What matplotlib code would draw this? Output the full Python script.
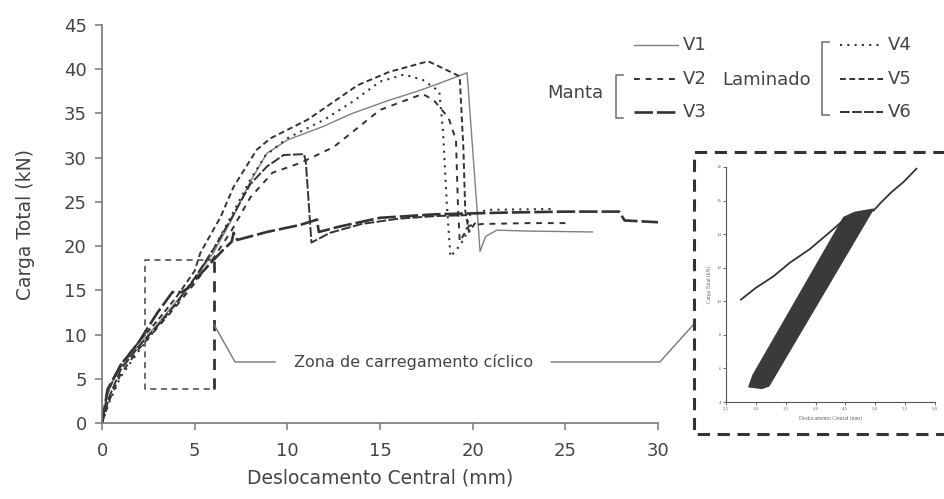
import matplotlib
matplotlib.use('Agg')
import matplotlib.pyplot as plt
from matplotlib.lines import Line2D
from matplotlib.patches import Polygon

plt.rcParams['font.family'] = 'DejaVu Sans'

# ---- curvas carga x deslocamento ----
v1_x = [0, 0.3, 0.6, 1, 1.5, 2, 3, 4, 5, 6, 7, 8, 8.9, 10, 11.9, 13.5, 15.5, 17, 18.2, 19.7, 20.4, 20.7, 21.3, 23, 26.5]
v1_y = [0, 3.2, 4.8, 6.3, 7.6, 8.8, 11.2, 13.7, 16.3, 19.2, 23, 27.3, 30.5, 32, 33.5, 35, 36.5, 37.5, 38.4, 39.6, 19.4, 21.1, 21.8, 21.7, 21.6]

v2_x = [0, 0.4, 1, 2, 3, 4, 5, 6, 7, 8, 9.2, 10.7, 12.5, 15, 17.3, 17.9, 18.7, 19.1, 19.2, 19.3, 19.8, 20.5, 23, 25.2]
v2_y = [0, 2.6, 5.5, 8.4, 10.8, 13.2, 15.8, 18.6, 21.8, 25.5, 28.3, 29.4, 31.2, 35.4, 37.2, 36.5, 34.5, 32, 25, 20.5, 22.3, 22.5, 22.6, 22.6]

v3_x = [0, 0.3, 1, 2, 2.3, 3, 3.8, 4.3, 4.6, 5.3, 6, 6.55, 7.0, 7.1, 7.3, 8.9, 10.7, 11.6, 11.7, 12.8, 15, 18, 20, 22, 25, 27.9, 28.2, 30]
v3_y = [0, 3.8, 6.5, 9.2, 10.2, 12.5, 14.8, 14.8, 15.2, 16.8, 18.4, 19.6, 20.5, 21.5, 20.7, 21.6, 22.4, 23.0, 21.6, 22.2, 23.2, 23.6, 23.7, 23.8, 23.9, 23.9, 22.9, 22.7]

v4_x = [0, 0.4, 1, 2, 3, 4, 5, 6, 7, 8, 8.8, 10, 12, 13.5, 15, 16.3, 17.3, 18.2, 18.4, 18.6, 18.8, 19.2, 19.6, 19.8, 20.8, 24.4]
v4_y = [0, 2.4, 5.2, 8.2, 10.9, 13.4, 16.2, 19.6, 23.5, 27.5, 30.2, 32.2, 34.3, 36.3, 38.6, 39.4, 38.8, 37.5, 33, 25, 18.8, 19.8, 21, 23.5, 24.1, 24.2]

v5_x = [0, 0.3, 1, 2, 3, 4, 5, 5.3, 6.4, 7.1, 8.35, 9.1, 11.1, 13.8, 15.5, 17.6, 19.3, 19.5, 19.6, 19.8, 20.2]
v5_y = [0, 3.5, 6.6, 9.2, 11.6, 14.2, 17.2, 19.2, 23.3, 26.7, 30.9, 32.2, 34.3, 38.2, 39.7, 40.9, 39.2, 31, 24, 21.6, 22.8]

v6_x = [0, 0.4, 1, 2, 3, 4, 5, 6, 7, 8, 8.9, 9.8, 10.9, 11.0, 11.3, 12.3, 14, 16, 18, 19.7]
v6_y = [0, 3, 6, 8.7, 11, 13.5, 16.4, 19.6, 23.2, 27, 29, 30.3, 30.4, 29.5, 20.4, 21.5, 22.5, 23.1, 23.4, 23.5]

names = ['V1', 'V2', 'V3', 'V4', 'V5', 'V6']
xs = [v1_x, v2_x, v3_x, v4_x, v5_x, v6_x]
ys = [v1_y, v2_y, v3_y, v4_y, v5_y, v6_y]
styles = [
    dict(color='#808080', lw=1.0, ls='-'),
    dict(color='#333333', lw=1.4, ls=(0, (3, 3))),
    dict(color='#333333', lw=1.9, ls=(0, (7, 1.5))),
    dict(color='#333333', lw=1.5, ls=(0, (1, 2.5))),
    dict(color='#333333', lw=1.4, ls=(0, (3, 1.8))),
    dict(color='#333333', lw=1.4, ls=(0, (5, 1.2))),
]

# ---- detalhe do carregamento ciclico (inset) ----
ins_line_x = [2.75, 3.0, 3.3, 3.57, 3.9, 4.2, 4.49]
ins_line_y = [10.1, 10.8, 11.5, 12.3, 13.1, 14.0, 14.9]
ins_tail_x = [4.97, 5.1, 5.27, 5.47, 5.69]
ins_tail_y = [15.4, 15.9, 16.5, 17.1, 17.9]
band_x = [2.88, 2.95, 4.47, 4.65, 4.97, 3.22, 3.1]
band_y = [4.9, 5.6, 15.0, 15.3, 15.5, 4.95, 4.8]

zone_x = (2.33, 6.05)
zone_y = (3.85, 18.4)

W, H = 944, 499
fig = plt.figure(figsize=(W / 100, H / 100), dpi=100)
ax = fig.add_axes([102 / W, 76 / H, 556 / W, 398 / H])

for x, y, st in zip(xs, ys, styles):
    ax.plot(x, y, solid_capstyle='butt', **st)

ax.set_xlim(0, 30)
ax.set_ylim(0, 45)
ax.set_xticks(range(0, 31, 5))
ax.set_yticks(range(0, 46, 5))
for s in ['top', 'right']:
    ax.spines[s].set_visible(False)
for s in ['left', 'bottom']:
    ax.spines[s].set_color('#777777')
    ax.spines[s].set_linewidth(1.2)
ax.tick_params(axis='both', direction='out', length=5, width=1.1, color='#777777',
               labelsize=13, labelcolor='#444444')
ax.tick_params(axis='x', pad=9)
ax.tick_params(axis='y', pad=6)
ax.set_xlabel('Deslocamento Central (mm)', fontsize=13.5, color='#444444', labelpad=6)
ax.set_ylabel('Carga Total (kN)', fontsize=13.5, color='#444444', labelpad=21)

# caixa da zona ciclica
zx0, zx1 = zone_x
zy0, zy1 = zone_y
ax.plot([zx1, zx0, zx0, zx1], [zy1, zy1, zy0, zy0], color='#444444', lw=1.1, ls=(0, (4, 3)))
ax.plot([zx1, zx1], [zy0, zy1], color='#333333', lw=2.0, ls=(0, (4, 3)))

# chamada
ax.plot([6.05, 7.18, 9.34], [11.1, 6.9, 6.9], color='#777777', lw=1.0)
ax.plot([24.25, 30.1, 31.9], [6.9, 6.9, 11.1], color='#777777', lw=1.0, clip_on=False)
ax.text(16.8, 6.9, 'Zona de carregamento cíclico', fontsize=11.5, color='#444444',
        ha='center', va='center')


def fp(px, py):
    return px / W, 1 - py / H


# legenda desenhada
leg_rows = [45, 79, 112]
for i, name in enumerate(names):
    col = i // 3
    row = leg_rows[i % 3]
    x0, x1, xt = (634, 678, 683) if col == 0 else (840, 883, 888)
    a, b = fp(x0, row)
    c, _ = fp(x1, row)
    st = styles[i]
    fig.add_artist(Line2D([a, c], [b, b], transform=fig.transFigure, **st))
    fig.text(*fp(xt, row), name, fontsize=13, color='#444444', ha='left', va='center')

fig.text(*fp(603, 93), 'Manta', fontsize=13, color='#444444', ha='right', va='center')
fig.text(*fp(722, 80), 'Laminado', fontsize=13, color='#444444', ha='left', va='center')
for bx, by0, by1 in [(616, 75, 118), (822, 42, 115)]:
    pts = [fp(bx + 7, by0), fp(bx, by0), fp(bx, by1), fp(bx + 7, by1)]
    fig.add_artist(Line2D([p[0] for p in pts], [p[1] for p in pts],
                          transform=fig.transFigure, color='#777777', lw=1.2))

# moldura tracejada do inset
frame = [fp(950, 152), fp(694, 152), fp(694, 434), fp(950, 434)]
fig.add_artist(Line2D([p[0] for p in frame], [p[1] for p in frame], transform=fig.transFigure,
                      color='#333333', lw=2.2, ls=(0, (4, 2.5))))

# inset
axi = fig.add_axes([726 / W, 97 / H, 209 / W, 235 / H])
axi.add_patch(Polygon(list(zip(band_x, band_y)), closed=True, facecolor='#3a3a3a',
                      edgecolor='#3a3a3a', lw=0.8))
axi.plot(ins_line_x, ins_line_y, color='#333333', lw=1.3)
axi.plot(ins_tail_x, ins_tail_y, color='#333333', lw=1.3)
axi.set_xlim(2.5, 6.0)
axi.set_ylim(4, 18)
xt = [2.5, 3.0, 3.5, 4.0, 4.5, 5.0, 5.5, 6.0]
axi.set_xticks(xt)
axi.set_xticklabels([f'{v:.1f}'.replace('.', ',') for v in xt])
axi.set_yticks(range(4, 19, 2))
for s in ['top', 'right']:
    axi.spines[s].set_visible(False)
for s in ['left', 'bottom']:
    axi.spines[s].set_color('#555555')
    axi.spines[s].set_linewidth(0.8)
axi.tick_params(direction='out', length=2, width=0.6, color='#555555', labelsize=3.5,
                labelcolor='#666666', pad=1.5)
for lab in axi.get_xticklabels() + axi.get_yticklabels():
    lab.set_family('Liberation Serif')
axi.set_xlabel('Deslocamento Central (mm)', fontsize=4, family='Liberation Serif',
               color='#666666', labelpad=3)
axi.set_ylabel('Carga Total (kN)', fontsize=4, family='Liberation Serif',
               color='#666666', labelpad=3)

fig.savefig('out.png', dpi=100, facecolor='white')
